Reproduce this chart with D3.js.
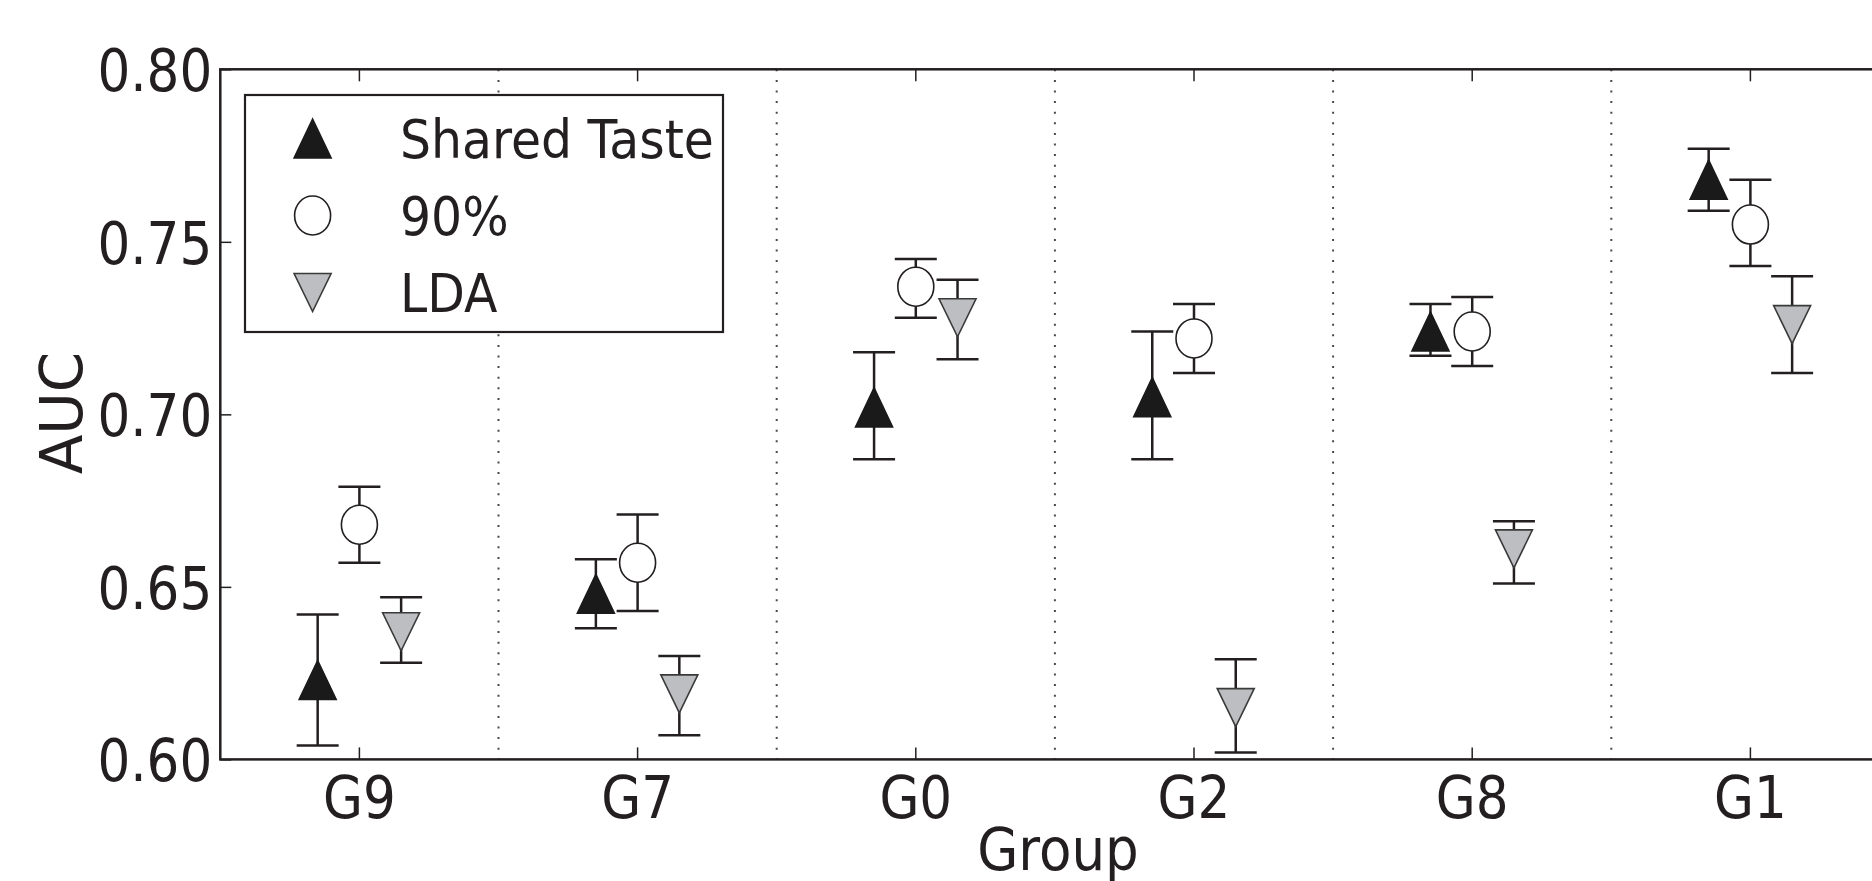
<!DOCTYPE html>
<html>
<head>
<meta charset="utf-8">
<script src="https://cdn.jsdelivr.net/npm/d3@7"></script>
<style>
body { margin: 0; background: #fff; }
text { font-family: "DejaVu Sans", sans-serif; fill: #231f20; }
</style>
</head>
<body>
<div id="chart"></div>
<script>
// values
var groups = ["G9", "G7", "G0", "G2", "G8", "G1"];
var seriesNames = ["Shared Taste", "90%", "LDA"];

var sharedTaste   = [0.623, 0.648, 0.702, 0.705, 0.724, 0.768];
var sharedTasteLo = [0.604, 0.638, 0.687, 0.687, 0.717, 0.759];
var sharedTasteHi = [0.642, 0.658, 0.718, 0.724, 0.732, 0.777];

var ninety   = [0.668, 0.657, 0.737, 0.722, 0.724, 0.755];
var ninetyLo = [0.657, 0.643, 0.728, 0.712, 0.714, 0.743];
var ninetyHi = [0.679, 0.671, 0.745, 0.732, 0.734, 0.768];

var lda   = [0.637, 0.619, 0.728, 0.615, 0.661, 0.726];
var ldaLo = [0.628, 0.607, 0.716, 0.602, 0.651, 0.712];
var ldaHi = [0.647, 0.630, 0.739, 0.629, 0.669, 0.740];

var yTicks = [0.60, 0.65, 0.70, 0.75, 0.80];

var width = 1872, height = 881;
var plotLeft = 220.3, plotRight = 1889.5, plotTop = 69.3, plotBottom = 759.4;
var ink = "#231f20";
var squeeze = "scale(0.89,1)";

var svg = d3.select("#chart").append("svg")
    .attr("width", width)
    .attr("height", height);

var x = d3.scaleBand().domain(groups).range([plotLeft, plotRight]);
var y = d3.scaleLinear().domain([0.6, 0.8]).range([plotBottom, plotTop]);
var offsets = [-0.15, 0, 0.15];

// dotted separators between groups
svg.selectAll(".sep")
    .data(groups.slice(1))
    .enter().append("line")
    .attr("class", "sep")
    .attr("x1", function (d) { return x(d); })
    .attr("x2", function (d) { return x(d); })
    .attr("y1", plotTop)
    .attr("y2", plotBottom)
    .attr("stroke", "#4a4a4a")
    .attr("stroke-width", 2)
    .attr("stroke-dasharray", "2,8.6");

// axes
var bottomAxis = svg.append("g")
    .attr("transform", "translate(0," + plotBottom + ")")
    .call(d3.axisBottom(x).tickSizeInner(-12).tickSizeOuter(0).tickPadding(17));
var topAxis = svg.append("g")
    .attr("transform", "translate(0," + plotTop + ")")
    .call(d3.axisTop(x).tickSizeInner(-12).tickSizeOuter(0).tickFormat(""));
var leftAxis = svg.append("g")
    .attr("transform", "translate(" + plotLeft + ",0)")
    .call(d3.axisLeft(y).tickValues(yTicks).tickFormat(d3.format(".2f"))
        .tickSizeInner(-11).tickSizeOuter(0).tickPadding(9));
var rightAxis = svg.append("g")
    .attr("transform", "translate(" + plotRight + ",0)")
    .call(d3.axisRight(y).tickValues(yTicks).tickFormat("")
        .tickSizeInner(-11).tickSizeOuter(0));

[bottomAxis, topAxis, leftAxis, rightAxis].forEach(function (g) {
    g.select(".domain").remove();
    g.selectAll(".tick line").attr("stroke", ink).attr("stroke-width", 1.5);
    g.selectAll(".tick text")
        .attr("fill", ink)
        .style("font-size", "58px")
        .attr("transform", squeeze);
});
leftAxis.selectAll(".tick text").attr("dy", "0.37em");

// frame
svg.append("rect")
    .attr("x", plotLeft)
    .attr("y", plotTop)
    .attr("width", plotRight - plotLeft)
    .attr("height", plotBottom - plotTop)
    .attr("fill", "none")
    .attr("stroke", ink)
    .attr("stroke-width", 2.5);

// series
var triUp = "M0,-19.5L18.5,19.5L-18.5,19.5Z";
var triDown = "M0,19L18.5,-19L-18.5,-19Z";
var series = [
    {name: seriesNames[0], v: sharedTaste, lo: sharedTasteLo, hi: sharedTasteHi, shape: "up", fill: "#1a1a1a", stroke: "#1a1a1a"},
    {name: seriesNames[1], v: ninety, lo: ninetyLo, hi: ninetyHi, shape: "circle", fill: "#fff", stroke: "#231f20"},
    {name: seriesNames[2], v: lda, lo: ldaLo, hi: ldaHi, shape: "down", fill: "#bdbec2", stroke: "#3a3a3a"}
];

function drawMarker(g, s) {
    if (s.shape === "circle") {
        g.append("ellipse").attr("rx", 18).attr("ry", 19.5);
    } else {
        g.append("path").attr("d", s.shape === "up" ? triUp : triDown);
    }
    g.select(":first-child")
        .attr("fill", s.fill)
        .attr("stroke", s.stroke)
        .attr("stroke-width", 1.6);
}

var capHalf = 21;
series.forEach(function (s, k) {
    var g = svg.append("g").attr("class", "series");
    var pts = groups.map(function (d, i) {
        return {cx: x(d) + x.bandwidth() / 2 + offsets[k] * x.bandwidth(),
                v: s.v[i], lo: s.lo[i], hi: s.hi[i]};
    });
    var bars = g.selectAll(".err").data(pts).enter().append("g").attr("class", "err");
    bars.append("line")
        .attr("x1", function (d) { return d.cx; })
        .attr("x2", function (d) { return d.cx; })
        .attr("y1", function (d) { return y(d.lo); })
        .attr("y2", function (d) { return y(d.hi); });
    bars.append("line")
        .attr("x1", function (d) { return d.cx - capHalf; })
        .attr("x2", function (d) { return d.cx + capHalf; })
        .attr("y1", function (d) { return y(d.hi); })
        .attr("y2", function (d) { return y(d.hi); });
    bars.append("line")
        .attr("x1", function (d) { return d.cx - capHalf; })
        .attr("x2", function (d) { return d.cx + capHalf; })
        .attr("y1", function (d) { return y(d.lo); })
        .attr("y2", function (d) { return y(d.lo); });
    bars.selectAll("line").attr("stroke", ink).attr("stroke-width", 2.5);

    pts.forEach(function (d) {
        var m = g.append("g").attr("transform", "translate(" + d.cx + "," + y(d.v) + ")");
        drawMarker(m, s);
    });
});

// legend
var legend = svg.append("g");
legend.append("rect")
    .attr("x", 245).attr("y", 95)
    .attr("width", 478).attr("height", 237)
    .attr("fill", "#fff")
    .attr("stroke", ink)
    .attr("stroke-width", 2.2);
series.forEach(function (s, k) {
    var cy = 138.5 + k * 77;
    var m = legend.append("g").attr("transform", "translate(312.6," + cy + ")");
    drawMarker(m, s);
    legend.append("text")
        .attr("transform", "translate(400," + (cy + 19.5) + ") scale(0.905,1)")
        .style("font-size", "54px")
        .text(s.name);
});

// axis titles
svg.append("text")
    .attr("transform", "translate(1058,870) scale(0.9,1)")
    .attr("text-anchor", "middle")
    .style("font-size", "59px")
    .text("Group");
svg.append("text")
    .attr("transform", "translate(82,413) rotate(-90)")
    .attr("text-anchor", "middle")
    .style("font-size", "58px")
    .text("AUC");
</script>
</body>
</html>
